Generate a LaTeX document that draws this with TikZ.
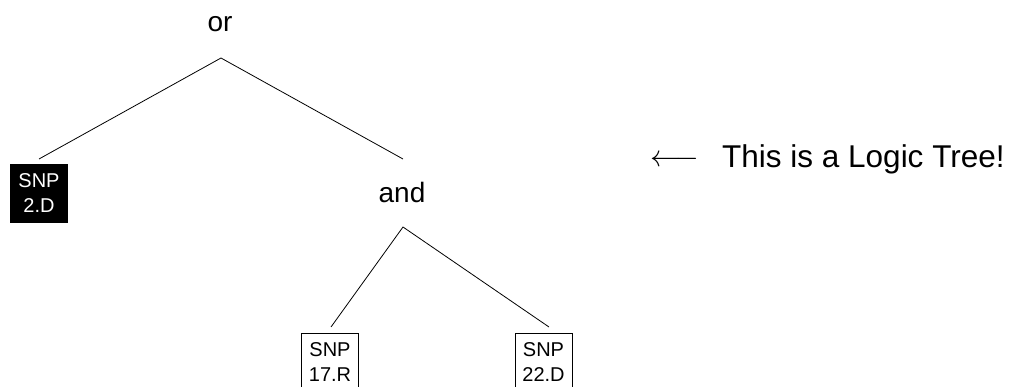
\documentclass[tikz,border=0pt]{standalone}
\usepackage{graphicx}
\usepackage{fontspec}
\setmainfont{Liberation Sans}
\begin{document}
\begin{tikzpicture}[x=1pt,y=-1pt,
  lbl/.style={font=\fontsize{28}{32}\selectfont, inner sep=0pt, anchor=base},
  snp/.style={draw=black, line width=0.8pt, minimum width=57pt, minimum height=58pt, inner sep=0pt, align=center, font=\fontsize{20}{24.5}\selectfont},
  snpneg/.style={snp, fill=black, text=white},
  edge/.style={line width=0.8pt}]
\clip (0,0) rectangle (1011,387);
\fill[white] (0,0) rectangle (1011,387);
% labels
\node[lbl] (or) at (220,32) {or};
\node[lbl] (and) at (402,203) {and};
% leaves
\node[snpneg] (s2) at (39,193) {SNP\\2.D};
\node[snp] (s17) at (330,362) {SNP\\17.R};
\node[snp] (s22) at (543.5,362) {SNP\\22.D};
% connector points
\coordinate (orapex) at (221,58);
\coordinate (s2top) at (39,159);
\coordinate (andtop) at (403,159);
\coordinate (andapex) at (403,227);
\coordinate (s17top) at (331,327);
\coordinate (s22top) at (549,327);
\draw[edge] (s2top) -- (orapex) -- (andtop);
\draw[edge] (s17top) -- (andapex) -- (s22top);
% annotation
\node[inner sep=0pt, anchor=west] (arrow) at (650,161) {\resizebox{49pt}{!}{$\longleftarrow$}};
\node[inner sep=0pt, anchor=base west, font=\fontsize{31.5}{36}\selectfont] (note) at (722,168) {This is a Logic Tree!};
\end{tikzpicture}
\end{document}
